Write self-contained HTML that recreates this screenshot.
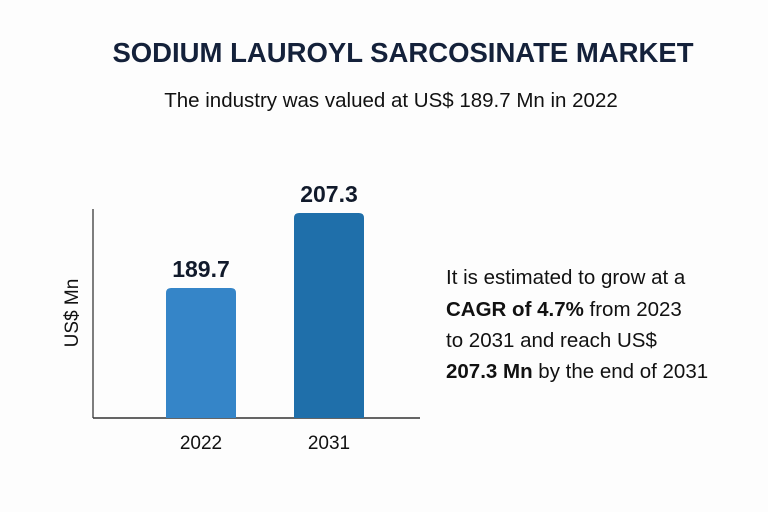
<!DOCTYPE html>
<html><head><meta charset="utf-8"><style>
body{margin:0;background:#fdfdfd;width:768px;height:512px;overflow:hidden;font-family:"Liberation Sans",sans-serif;color:#111a2b}
svg{position:absolute;left:0;top:0}
</style></head><body>
<svg width="768" height="512">
<text x="403" y="62" text-anchor="middle" font-size="27.5" font-weight="bold" fill="#14213a">SODIUM LAUROYL SARCOSINATE MARKET</text>
<text x="391" y="107" text-anchor="middle" font-size="20.5" fill="#111">The industry was valued at US$ 189.7 Mn in 2022</text>
<line x1="93" y1="209" x2="93" y2="418" stroke="#555" stroke-width="1.5"/>
<line x1="93" y1="418" x2="420" y2="418" stroke="#333" stroke-width="1.5"/>
<text transform="translate(78,313) rotate(-90)" text-anchor="middle" font-size="19" fill="#111">US$ Mn</text>
<g id="bars"></g>
<g font-size="20.5" fill="#111">
<text x="446" y="284">It is estimated to grow at a</text>
<text x="446" y="316"><tspan font-weight="bold">CAGR of 4.7%</tspan> from 2023</text>
<text x="446" y="347">to 2031 and reach US$</text>
<text x="446" y="378"><tspan font-weight="bold">207.3 Mn</tspan> by the end of 2031</text>
</g>
</svg>
<script>
const categories=["2022","2031"];
const values=[189.7,207.3];
const colors=["#3585c8","#1f6faa"];
const yMin=159.2,yMax=207.3,baseY=418,topY=213;
const y=v=>baseY-(v-yMin)/(yMax-yMin)*(baseY-topY);
const x=i=>166+i*128;
const g=document.getElementById('bars');
const ns="http://www.w3.org/2000/svg";
categories.forEach((c,i)=>{
 const yy=y(values[i]);
 const p=document.createElementNS(ns,'path');
 p.setAttribute('d',`M${x(i)},${baseY}V${yy+5}Q${x(i)},${yy} ${x(i)+5},${yy}H${x(i)+65}Q${x(i)+70},${yy} ${x(i)+70},${yy+5}V${baseY}Z`);
 p.setAttribute('fill',colors[i]);
 
 
 g.appendChild(p);
 const t=document.createElementNS(ns,'text');
 t.setAttribute('x',x(i)+35);t.setAttribute('y',yy-11);
 t.setAttribute('text-anchor','middle');t.setAttribute('font-size','23');t.setAttribute('font-weight','bold');t.setAttribute('fill','#111a2b');
 t.textContent=values[i].toFixed(1);
 
 
 g.appendChild(t);
 const l=document.createElementNS(ns,'text');
 l.setAttribute('x',x(i)+35);l.setAttribute('y',449);
 l.setAttribute('text-anchor','middle');l.setAttribute('font-size','19');l.setAttribute('fill','#111');
 l.textContent=c;
 
 
 g.appendChild(l);
});
</script>
</body></html>
